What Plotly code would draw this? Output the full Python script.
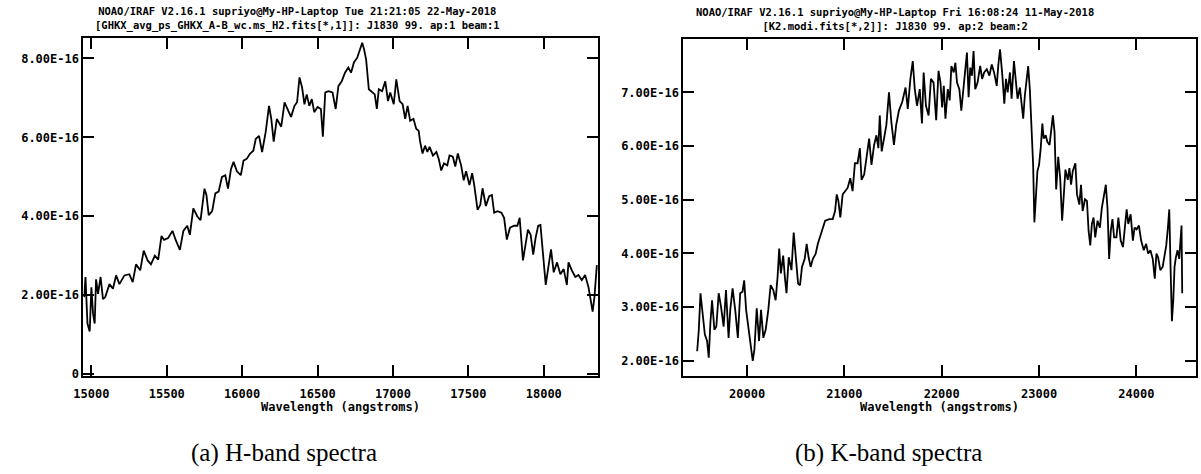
import plotly.graph_objects as go

# ---------------- data (flux in units of 1e-16) ----------------
h_wave = [14952, 14961, 14974, 14989, 15000, 15011, 15022, 15031, 15044, 15061, 15077, 15092,
          15120, 15143, 15164, 15186, 15219, 15252, 15274, 15296, 15324, 15347, 15373, 15395,
          15421, 15443, 15465, 15482, 15509, 15538, 15559, 15587, 15610, 15636, 15653, 15676,
          15702, 15724, 15750, 15763, 15778, 15801, 15822, 15844, 15866, 15888, 15906, 15926,
          15943, 15965, 15991, 16009, 16031, 16053, 16074, 16090, 16112, 16132, 16156, 16178,
          16193, 16209, 16230, 16259, 16281, 16303, 16324, 16347, 16364, 16380, 16397, 16413,
          16428, 16445, 16462, 16478, 16500, 16522, 16535, 16551, 16572, 16599, 16620, 16638,
          16660, 16682, 16704, 16722, 16741, 16763, 16778, 16796, 16809, 16822, 16840, 16862,
          16879, 16893, 16906, 16928, 16949, 16967, 16982, 17005, 17022, 17044, 17064, 17081,
          17097, 17114, 17136, 17154, 17170, 17180, 17196, 17213, 17228, 17243, 17265, 17288,
          17303, 17320, 17338, 17360, 17375, 17397, 17413, 17430, 17452, 17469, 17485, 17507,
          17525, 17539, 17561, 17579, 17594, 17616, 17638, 17656, 17671, 17693, 17719, 17737,
          17755, 17776, 17803, 17825, 17840, 17862, 17880, 17895, 17913, 17930, 17946, 17963,
          17978, 17996, 18013, 18033, 18048, 18066, 18088, 18110, 18132, 18153, 18164, 18186,
          18209, 18230, 18252, 18274, 18296, 18311, 18324, 18336, 18347, 18352]
h_flux = [1.95, 2.46, 1.28, 1.08, 2.20, 1.53, 1.28, 2.40, 2.03, 2.46, 1.90, 1.95,
          2.28, 2.16, 2.50, 2.28, 2.50, 2.53, 2.33, 2.78, 2.63, 3.13, 2.88, 2.78,
          3.00, 2.90, 3.50, 3.40, 3.45, 3.63, 3.40, 3.15, 3.63, 3.76, 3.53, 4.20,
          4.00, 3.90, 4.70, 4.54, 4.03, 4.13, 4.58, 4.63, 5.00, 5.04, 4.70, 5.20,
          5.38, 5.14, 5.04, 5.41, 5.46, 5.59, 5.66, 5.96, 6.04, 5.63, 6.14, 6.80,
          6.47, 5.89, 6.47, 6.27, 6.89, 6.72, 6.52, 6.80, 6.89, 7.52, 7.27, 6.84,
          7.09, 6.80, 6.97, 6.64, 6.77, 6.72, 6.02, 7.14, 7.17, 7.14, 6.72, 7.30,
          7.42, 7.64, 7.77, 7.64, 7.90, 8.02, 8.22, 8.40, 8.22, 7.97, 7.22, 7.14,
          7.09, 6.72, 7.22, 7.17, 7.42, 6.92, 7.14, 6.84, 7.47, 6.92, 6.84, 6.47,
          6.80, 6.42, 6.47, 6.22, 6.17, 5.89, 5.59, 5.79, 5.63, 5.76, 5.54, 5.63,
          5.46, 5.16, 5.34, 5.29, 5.54, 5.51, 5.26, 5.59, 5.29, 4.91, 5.14, 4.79,
          5.09, 4.79, 4.16, 4.29, 4.71, 4.26, 4.51, 4.54, 4.09, 4.13, 4.09, 3.96,
          3.41, 3.71, 3.76, 3.76, 3.96, 2.88, 3.28, 3.66, 3.53, 3.03, 3.46, 3.76,
          3.78, 3.03, 2.26, 2.78, 3.16, 2.58, 2.83, 2.53, 2.66, 2.26, 2.83, 2.63,
          2.46, 2.51, 2.38, 2.51, 2.21, 1.88, 1.58, 1.95, 2.71, 2.76]

k_wave = [19487, 19504, 19521, 19545, 19566, 19589, 19606, 19623, 19640, 19664, 19684, 19708,
          19732, 19759, 19783, 19810, 19827, 19851, 19878, 19905, 19929, 19953, 19970, 19990,
          20014, 20034, 20058, 20075, 20099, 20123, 20143, 20167, 20191, 20218, 20242, 20269,
          20293, 20313, 20330, 20347, 20371, 20388, 20405, 20428, 20456, 20479, 20500, 20524,
          20544, 20564, 20592, 20612, 20632, 20653, 20676, 20704, 20727, 20761, 20802, 20846,
          20880, 20904, 20921, 20938, 20958, 20982, 21009, 21033, 21060, 21084, 21108, 21135,
          21159, 21176, 21203, 21227, 21254, 21278, 21305, 21329, 21349, 21363, 21383, 21407,
          21431, 21458, 21482, 21509, 21532, 21560, 21594, 21628, 21651, 21678, 21702, 21723,
          21746, 21774, 21797, 21814, 21838, 21865, 21889, 21916, 21943, 21967, 21987, 22004,
          22021, 22038, 22062, 22082, 22099, 22123, 22140, 22157, 22181, 22201, 22218, 22242,
          22259, 22276, 22293, 22310, 22327, 22344, 22368, 22395, 22415, 22436, 22463, 22490,
          22514, 22538, 22565, 22582, 22599, 22623, 22643, 22660, 22677, 22701, 22718, 22742,
          22762, 22779, 22803, 22820, 22837, 22854, 22871, 22888, 22905, 22922, 22939, 22952,
          22966, 22983, 23000, 23017, 23034, 23047, 23068, 23085, 23108, 23125, 23142, 23159,
          23176, 23197, 23217, 23237, 23254, 23271, 23295, 23312, 23329, 23346, 23373, 23390,
          23414, 23431, 23448, 23472, 23492, 23509, 23526, 23543, 23560, 23577, 23601, 23625,
          23645, 23669, 23686, 23703, 23720, 23737, 23754, 23771, 23795, 23815, 23839, 23862,
          23883, 23900, 23917, 23941, 23964, 23981, 24002, 24026, 24049, 24076, 24100, 24121,
          24144, 24168, 24189, 24206, 24223, 24246, 24270, 24290, 24307, 24324, 24338, 24352,
          24365, 24379, 24392, 24406, 24423, 24440, 24454, 24464, 24471]
k_flux = [2.18, 2.58, 3.26, 2.89, 2.49, 2.37, 2.06, 2.71, 3.13, 2.58, 2.64, 3.26,
          3.01, 2.64, 3.32, 2.43, 2.95, 3.35, 2.95, 2.43, 3.26, 3.29, 3.50, 2.95,
          2.58, 2.34, 2.00, 2.21, 2.98, 2.37, 2.95, 2.43, 2.58, 2.95, 3.41, 3.32,
          3.13, 3.56, 4.09, 3.63, 3.96, 3.56, 3.26, 3.93, 3.69, 4.39, 3.93, 3.44,
          3.41, 3.75, 3.90, 4.18, 3.93, 3.75, 3.90, 3.99, 4.18, 4.36, 4.61, 4.64,
          4.64, 4.79, 5.10, 4.98, 4.67, 5.10, 5.16, 5.22, 5.40, 5.16, 5.68, 5.68,
          5.96, 5.37, 5.47, 5.77, 6.14, 5.65, 6.02, 6.20, 5.96, 6.57, 5.90, 6.14,
          6.39, 7.00, 6.45, 6.02, 6.39, 6.66, 6.82, 7.09, 6.69, 7.25, 7.58, 7.06,
          6.75, 7.06, 6.42, 7.37, 6.75, 6.57, 7.25, 7.18, 6.48, 7.40, 7.18, 6.72,
          7.12, 6.51, 7.06, 6.85, 7.49, 7.37, 7.55, 7.18, 7.06, 6.66, 7.00, 7.43,
          7.74, 6.91, 7.46, 7.31, 7.77, 7.06, 7.18, 7.49, 7.25, 7.37, 7.43, 7.31,
          7.52, 7.37, 7.12, 7.52, 7.80, 7.31, 6.79, 7.25, 7.00, 7.37, 6.88, 7.58,
          7.18, 6.88, 7.09, 6.85, 6.51, 6.94, 7.18, 7.49, 7.06, 6.39, 5.65, 4.58,
          5.10, 5.53, 5.65, 5.96, 6.42, 6.14, 6.20, 6.08, 6.02, 6.26, 6.57, 6.26,
          5.19, 5.80, 5.40, 4.61, 5.16, 5.56, 5.37, 5.59, 5.28, 5.53, 5.68, 5.10,
          4.91, 5.28, 4.79, 5.01, 4.98, 4.42, 4.15, 4.55, 4.67, 4.30, 4.61, 4.48,
          4.85, 5.07, 5.28, 4.85, 3.90, 4.42, 4.64, 4.30, 4.30, 4.67, 4.24, 4.12,
          4.55, 4.82, 4.55, 4.73, 4.24, 4.48, 4.45, 4.52, 4.24, 4.06, 4.18, 4.00,
          4.06, 3.90, 3.53, 4.00, 3.93, 3.69, 3.75, 3.93, 4.15, 4.48, 4.82, 3.69,
          2.74, 3.13, 3.75, 3.93, 4.06, 3.90, 4.24, 4.52, 3.26]

h_xticks = [15000, 15500, 16000, 16500, 17000, 17500, 18000]
h_xlabels = ["15000", "15500", "16000", "16500", "17000", "17500", "18000"]
h_yticks = [0, 2, 4, 6, 8]
h_ylabels = ["0", "2.00E-16", "4.00E-16", "6.00E-16", "8.00E-16"]
k_xticks = [20000, 21000, 22000, 23000, 24000]
k_xlabels = ["20000", "21000", "22000", "23000", "24000"]
k_yticks = [2, 3, 4, 5, 6, 7]
k_ylabels = ["2.00E-16", "3.00E-16", "4.00E-16", "5.00E-16", "6.00E-16", "7.00E-16"]

title_h = ["NOAO/IRAF V2.16.1 supriyo@My-HP-Laptop Tue 21:21:05 22-May-2018",
           "[GHKX_avg_ps_GHKX_A-B_wc.ms_H2.fits[*,1]]: J1830 99. ap:1 beam:1"]
title_k = ["NOAO/IRAF V2.16.1 supriyo@My-HP-Laptop Fri 16:08:24 11-May-2018",
           "[K2.modi.fits[*,2]]: J1830 99. ap:2 beam:2"]
xlabel = "Wavelength (angstroms)"
captions = ["(a) H-band spectra", "(b) K-band spectra"]

# ---------------- figure ----------------
W, H = 1201, 474
IRAF = "DejaVu Sans Mono"
CAP = "Liberation Serif"

fig = go.Figure()
fig.add_trace(go.Scatter(x=h_wave, y=h_flux, mode="lines", xaxis="x", yaxis="y",
                         line=dict(color="black", width=1.8), showlegend=False))
fig.add_trace(go.Scatter(x=k_wave, y=k_flux, mode="lines", xaxis="x2", yaxis="y2",
                         line=dict(color="black", width=1.8), showlegend=False))

def px(x):
    return x / W

def py(y):
    return 1 - y / H

tickfont = dict(family=IRAF, size=12, color="black", weight="bold")
common = dict(showgrid=False, zeroline=False, showline=True, linecolor="black", linewidth=2,
              mirror="allticks", ticks="inside", ticklen=11, tickwidth=2, tickcolor="black",
              tickfont=tickfont, fixedrange=True)

fig.update_layout(
    width=W, height=H,
    margin=dict(l=0, r=0, t=0, b=0),
    paper_bgcolor="white", plot_bgcolor="white",
    xaxis=dict(domain=[px(74), px(593)], range=[14947, 18360], tickvals=h_xticks,
               ticktext=h_xlabels, anchor="y", ticklabelstandoff=6, **common),
    yaxis=dict(domain=[py(380), py(38)], range=[-0.05, 8.53], tickvals=h_yticks,
               ticktext=h_ylabels, anchor="x", **common),
    xaxis2=dict(domain=[px(679), px(1196)], range=[19345, 24613], tickvals=k_xticks,
                ticktext=k_xlabels, anchor="y2", ticklabelstandoff=6, **common),
    yaxis2=dict(domain=[py(380), py(39)], range=[1.72, 8.0], tickvals=k_yticks,
                ticktext=k_ylabels, anchor="x2", **common),
)

ann = []
for cx, lines in ((290, title_h), (892, title_k)):
    ann.append(dict(x=px(cx), y=py(19), xref="paper", yref="paper", text="<br>".join(lines),
                    showarrow=False, xanchor="center", yanchor="middle", align="center",
                    font=dict(family=IRAF, size=10.5, color="black", weight="bold")))
for cx in (333, 937):
    ann.append(dict(x=px(cx), y=py(411), xref="paper", yref="paper", text=xlabel,
                    showarrow=False, xanchor="center", yanchor="middle",
                    font=dict(family=IRAF, size=12, color="black", weight="bold")))
for cx, t in zip((276, 886), captions):
    ann.append(dict(x=px(cx), y=py(458), xref="paper", yref="paper", text=t,
                    showarrow=False, xanchor="center", yanchor="middle",
                    font=dict(family=CAP, size=25, color="black")))
fig.update_layout(annotations=ann)

fig.write_html("out.html")
